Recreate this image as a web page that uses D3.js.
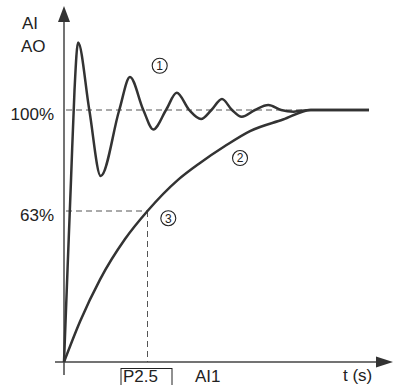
<!DOCTYPE html>
<html>
<head>
<meta charset="utf-8">
<script src="https://cdn.jsdelivr.net/npm/d3@7"></script>
<style>
  html, body { margin: 0; padding: 0; background: #fff; }
  svg { display: block; font-family: "Liberation Sans", Arial, sans-serif; }
</style>
</head>
<body>
<svg id="chart" width="394" height="385"></svg>
<script>
// Time in units of the filter time constant (P2.5 = 1), signal in percent.
const oscillatingT = [0, 0.042, 0.084, 0.126, 0.168, 0.303, 0.44, 0.662, 0.79, 0.95, 1.069, 1.222, 1.35, 1.5, 1.641, 1.766, 1.892, 2.012, 2.128, 2.287, 2.447, 2.6, 2.75, 2.946, 3.653];
const oscillatingV = [0, 38.4, 74.4, 107.3, 124.7, 100, 75.8, 100, 112.1, 100, 92.9, 100, 106.3, 100, 96.7, 100, 104.0, 100, 97.5, 100, 101.8, 100, 99.4, 100, 100];

const filteredT = [0, 0.192, 0.431, 0.731, 1, 1.365, 1.629, 1.928, 2.228, 2.623, 2.958, 3.653];
const filteredV = [0, 16.9, 34.4, 51.3, 63, 74.4, 80.6, 86.8, 92.3, 96.5, 100, 100];

const yTickValues = [63, 100];
const yTickLabels = ["63%", "100%"];
const timeConstant = 1;
const timeConstantLabel = "P2.5";
const curveNames = ["1", "2", "3"];
const curveNameT = [1.146, 2.108, 1.249];
const curveNameV = [116.2, 82.4, 60];

const svg = d3.select("#chart");
const ink = "#333";

// Schematic scales: the vertical one is pinned at the two reference levels.
const x = d3.scaleLinear().domain([0, 4]).range([64, 398]);
const y = d3.scaleLinear().domain([0, 63, 100]).range([362, 211, 110]);

const x0 = x(0), y0 = y(0);

// Reference dashed guides
const guides = svg.append("g")
  .attr("fill", "none").attr("stroke", "#555")
  .attr("stroke-width", 1).attr("stroke-dasharray", "6,4");
guides.append("line")
  .attr("x1", x0 + 2).attr("x2", x(2.95))
  .attr("y1", y(100)).attr("y2", y(100));
guides.append("line")
  .attr("x1", x0 + 2).attr("x2", x(timeConstant))
  .attr("y1", y(63)).attr("y2", y(63));
guides.append("line")
  .attr("x1", x(timeConstant)).attr("x2", x(timeConstant))
  .attr("y1", y(63)).attr("y2", y0);

// Axes with arrowheads
const axes = svg.append("g").attr("stroke", "#444").attr("stroke-width", 1.5);
axes.append("line").attr("x1", x0).attr("x2", x0).attr("y1", 375).attr("y2", 20);
axes.append("line").attr("x1", 55).attr("x2", 378).attr("y1", y0).attr("y2", y0);
svg.append("path")
  .attr("d", `M${x0},6 L${x0 - 6},22 L${x0 + 6},22 Z`)
  .attr("fill", "#333");
svg.append("path")
  .attr("d", `M393,${y0} L376,${y0 - 5.5} L376,${y0 + 5.5} Z`)
  .attr("fill", "#333");

// Y tick labels via axis
const yAxis = d3.axisLeft(y)
  .tickValues(yTickValues)
  .tickSize(0)
  .tickPadding(10)
  .tickFormat((d, i) => yTickLabels[i]);
const gy = svg.append("g").attr("transform", `translate(${x0},0)`).call(yAxis);
gy.select(".domain").remove();
gy.selectAll("text")
  .attr("font-family", "'Liberation Sans', Arial, sans-serif")
  .attr("font-size", 17).attr("fill", "#222").attr("dy", 9);

// Curves
const curveLine = d3.line()
  .x(d => x(d[0])).y(d => y(d[1]))
  .curve(d3.curveMonotoneX);

const oscData = oscillatingT.map((t, i) => [t, oscillatingV[i]]);
const filtData = filteredT.map((t, i) => [t, filteredV[i]]);

svg.append("path").datum(filtData)
  .attr("d", curveLine).attr("fill", "none")
  .attr("stroke", ink).attr("stroke-width", 2.5).attr("stroke-linejoin", "round");
svg.append("path").datum(oscData)
  .attr("d", curveLine).attr("fill", "none")
  .attr("stroke", ink).attr("stroke-width", 2.5).attr("stroke-linejoin", "round");

// Circled curve numbers
const marks = svg.append("g").selectAll("g")
  .data(curveNames.map((n, i) => ({ n, t: curveNameT[i], v: curveNameV[i] })))
  .join("g")
  .attr("transform", d => `translate(${x(d.t)},${y(d.v)})`);
marks.append("circle").attr("r", 7.5)
  .attr("fill", "#fff").attr("stroke", "#222").attr("stroke-width", 1.1);
marks.append("text").text(d => d.n)
  .attr("text-anchor", "middle").attr("dy", 4.3)
  .attr("font-size", 12).attr("fill", "#222");

// Axis titles
const title = svg.append("g").attr("font-size", 17).attr("fill", "#222");
title.append("text").attr("x", 22).attr("y", 28.5).text("AI");
title.append("text").attr("x", 21).attr("y", 52).text("AO");
title.append("text").attr("x", 343).attr("y", 380.5).text("t (s)");

// Time-constant parameter label under the x axis
const xc = x(timeConstant);
svg.append("rect")
  .attr("x", xc - 26.5).attr("y", 368.5)
  .attr("width", 51).attr("height", 20)
  .attr("fill", "none").attr("stroke", "#222").attr("stroke-width", 1);
title.append("text").attr("x", xc - 24.5).attr("y", 381.5).text(timeConstantLabel);
title.append("text").attr("x", 195).attr("y", 381.5).text("AI1");
</script>
</body>
</html>
